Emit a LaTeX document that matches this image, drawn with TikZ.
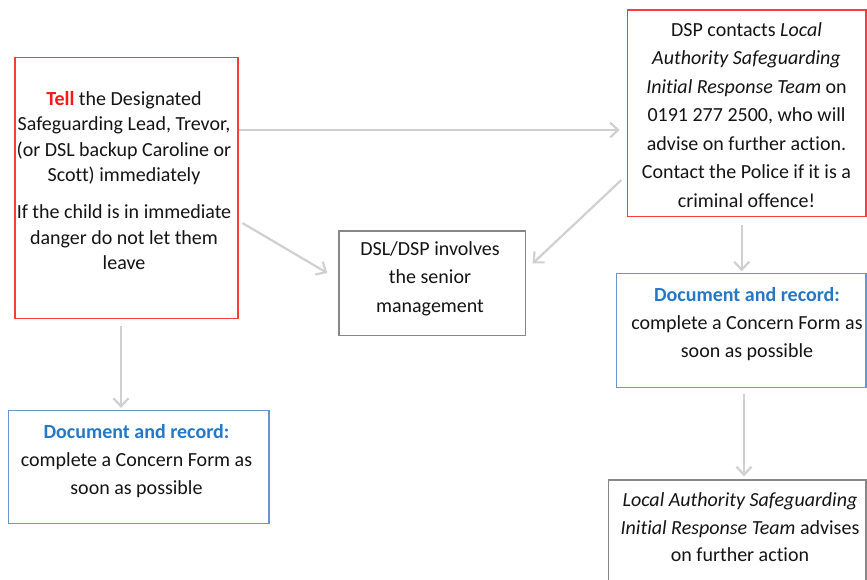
\documentclass[tikz,border=0pt]{standalone}
\usepackage{fontspec}
\setmainfont{Carlito}[Ligatures=NoCommon]
\usetikzlibrary{arrows.meta}
\definecolor{boxred}{RGB}{255,60,60}
\definecolor{tellred}{RGB}{250,25,25}
\definecolor{boxblue}{RGB}{105,150,210}
\definecolor{docblue}{RGB}{35,120,200}
\definecolor{boxgray}{RGB}{135,135,135}
\definecolor{arrowgray}{RGB}{208,208,208}
\definecolor{txtcol}{RGB}{20,20,20}
\tikzset{
  box/.style={draw, line width=1.3pt, inner sep=0pt},
  redbox/.style={box, draw=boxred},
  bluebox/.style={box, draw=boxblue},
  graybox/.style={box, draw=boxgray},
  txt/.style={align=center, inner sep=0pt, text=txtcol, font=\fontsize{20}{#1}\selectfont},
  txt/.default=26,
  conn/.style={draw=arrowgray, line width=2.2pt, -{Straight Barb[length=8pt,width=15pt,line width=2.2pt]}}
}
\begin{document}
\begin{tikzpicture}[x=1pt,y=-1pt]
\useasboundingbox (0,0) rectangle (867,580);
\clip (0,0) rectangle (867,580);
% boxes
\node[redbox, minimum width=223pt, minimum height=261pt] (tell) at (126.5,187.7) {};
\node[redbox, minimum width=238.7pt, minimum height=206.7pt] (dsp) at (746.7,113.3) {};
\node[graybox, minimum width=186.7pt, minimum height=104.7pt] (dsl) at (432.3,283.3) {};
\node[bluebox, minimum width=249.3pt, minimum height=114.4pt] (docR) at (741.3,330.5) {};
\node[bluebox, minimum width=260.7pt, minimum height=112.6pt] (docL) at (138.7,467) {};
\node[graybox, minimum width=257.7pt, minimum height=140pt] (la) at (737.2,550) {};
% texts
\node[txt=25.5] (tellT) at (124,180.5) {\textcolor{tellred}{\textbf{Tell}} the Designated\\Safeguarding Lead, Trevor,\\(or DSL backup Caroline or\\Scott) immediately\\[11.5pt]If the child is in immediate\\danger do not let them\\leave};
\node[txt=28.5] (dspT) at (746.5,115) {DSP contacts \textit{Local}\\\textit{Authority Safeguarding}\\\textit{Initial Response Team} on\\0191 277 2500, who will\\advise on further action.\\Contact the Police if it is a\\criminal offence!};
\node[txt=28.5] (dslT) at (430,278.5) {DSL/DSP involves\\the senior\\management};
\node[txt=28] (docRT) at (747,324) {\textcolor{docblue}{\textbf{Document and record:}}\\complete a Concern Form as\\soon as possible};
\node[txt=28] (docLT) at (136.5,461) {\textcolor{docblue}{\textbf{Document and record:}}\\complete a Concern Form as\\soon as possible};
\node[txt=27.5] (laT) at (740,527.5) {\textit{Local Authority Safeguarding}\\\textit{Initial Response Team} advises\\on further action};
% connectors
\draw[conn] ([yshift=57.7pt]tell.east) -- ([xshift=-7pt,yshift=-16.7pt]dsp.west);
\draw[conn] ([xshift=3.7pt,yshift=-35.3pt]tell.east) -- ([xshift=-11pt,yshift=10.3pt]dsl.west);
\draw[conn] ([xshift=-5.3pt,yshift=-66.7pt]dsp.west) -- ([xshift=6.3pt,yshift=19.8pt]dsl.east);
\draw[conn] ([xshift=-5.5pt,yshift=-6.7pt]tell.south) -- ([xshift=-17.7pt,yshift=2.2pt]docL.north);
\draw[conn] ([xshift=-5pt,yshift=-7.3pt]dsp.south) -- ([xshift=0.4pt,yshift=1.3pt]docR.north);
\draw[conn] ([xshift=2.7pt,yshift=-5.8pt]docR.south) -- ([xshift=6.8pt,yshift=3pt]la.north);
\end{tikzpicture}
\end{document}
